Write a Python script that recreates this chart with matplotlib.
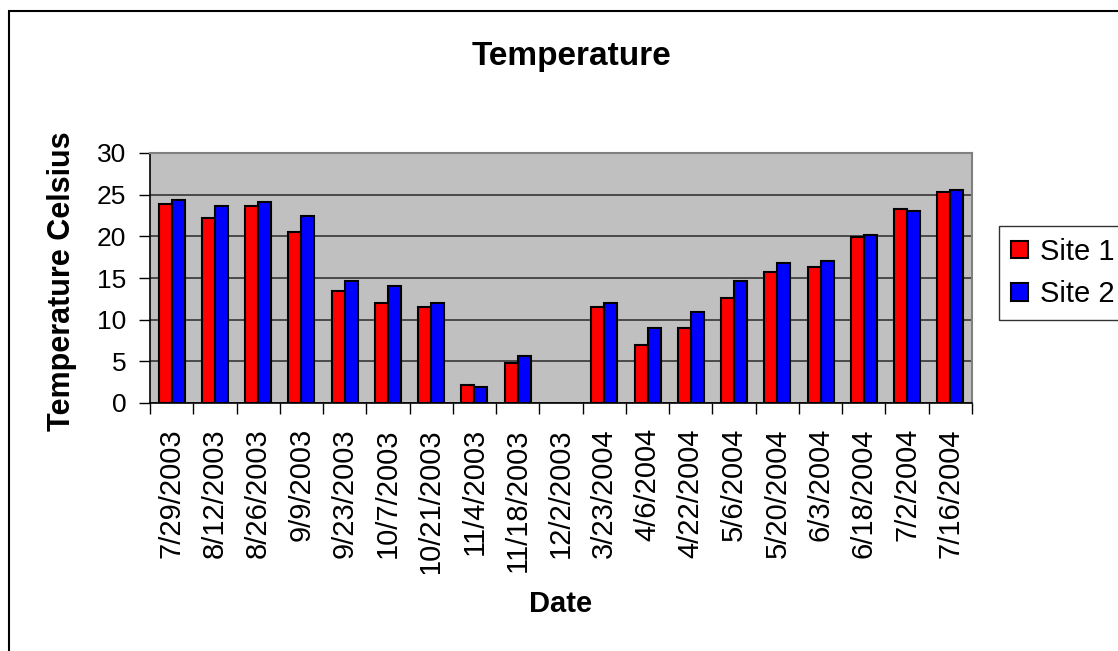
import numpy as np
import matplotlib
matplotlib.use("Agg")
import matplotlib.pyplot as plt
from matplotlib.patches import Rectangle
from matplotlib.transforms import Bbox

plt.rcParams['font.family'] = ['Liberation Sans', 'DejaVu Sans']

# --- data ---
dates = ["7/29/2003", "8/12/2003", "8/26/2003", "9/9/2003", "9/23/2003",
         "10/7/2003", "10/21/2003", "11/4/2003", "11/18/2003", "12/2/2003",
         "3/23/2004", "4/6/2004", "4/22/2004", "5/6/2004", "5/20/2004",
         "6/3/2004", "6/18/2004", "7/2/2004", "7/16/2004"]
site1 = [23.9, 22.2, 23.6, 20.5, 13.4, 12.0, 11.5, 2.2, 4.8, np.nan,
         11.5, 7.0, 9.0, 12.6, 15.7, 16.3, 19.9, 23.3, 25.3]
site2 = [24.4, 23.6, 24.1, 22.4, 14.6, 14.0, 12.0, 1.9, 5.6, np.nan,
         12.0, 9.0, 10.9, 14.6, 16.8, 17.1, 20.2, 23.0, 25.5]
y_ticks = [0, 5, 10, 15, 20, 25, 30]

W, H = 1118, 651
fig = plt.figure(figsize=(W / 100, H / 100), dpi=100)
fig.patch.set_facecolor('white')

# outer chart frame (only left/top visible in the reference)
fig.patches.append(Rectangle((9 / W, -0.1), 1.2, 1 - 11 / H + 0.1,
                             transform=fig.transFigure, fill=False,
                             edgecolor='black', linewidth=1.5))

# plot area in pixels: x 150..972, y 153..403
ax = fig.add_axes([150 / W, 1 - 403 / H, 822 / W, 250 / H])
ax.set_facecolor('#C0C0C0')

x = np.arange(len(dates))
w = 0.3
ax.bar(x - w / 2, site1, w, color='#FF0000', edgecolor='black', linewidth=1.5,
       label='Site 1', zorder=3)
ax.bar(x + w / 2, site2, w, color='#0000FF', edgecolor='black', linewidth=1.5,
       label='Site 2', zorder=3)

ax.set_xlim(-0.5, len(dates) - 0.5)
ax.set_ylim(0, 30)
ax.set_yticks(y_ticks)
ax.yaxis.grid(True, color='#404040', linewidth=1.3, zorder=1)
ax.set_axisbelow(True)

# category labels at centres, tick marks at boundaries
ax.set_xticks(x)
ax.set_xticklabels(dates, rotation=90, fontsize=21, va='top')
ax.set_xticks(np.arange(len(dates) + 1) - 0.5, minor=True)
ax.tick_params(axis='x', which='major', length=0, pad=18)
ax.tick_params(axis='x', which='minor', length=8, width=1, color='black',
               direction='out')
ax.tick_params(axis='y', length=8, width=1, pad=9, labelsize=19,
               direction='out')

for side in ['top', 'right']:
    ax.spines[side].set_color('#808080')
    ax.spines[side].set_linewidth(1.5)
for side in ['left', 'bottom']:
    ax.spines[side].set_color('black')
    ax.spines[side].set_linewidth(1.2)

# clip long date labels like the original
clip = Bbox.from_extents(0, H - 574, W, H)
for t in ax.get_xticklabels():
    t.set_clip_box(clip)
    t.set_clip_on(True)

fig.text(571 / W, 1 - 57 / H, 'Temperature', ha='center', va='center',
         fontsize=24, fontweight='bold')
fig.text(62 / W, 1 - 281 / H, 'Temperature Celsius', ha='center',
         va='center', rotation=90, fontsize=22, fontweight='bold')
fig.text(561 / W, 1 - 604 / H, 'Date', ha='center', va='center',
         fontsize=21, fontweight='bold')

leg = fig.legend(loc='upper left', bbox_to_anchor=(999 / W, 1 - 226 / H),
                 borderaxespad=0, fontsize=21, frameon=True, fancybox=False,
                 handlelength=0.6, handleheight=0.55, handletextpad=0.4,
                 borderpad=0.4, labelspacing=0.5)
leg.get_frame().set_edgecolor('black')
leg.get_frame().set_linewidth(1)

fig.savefig('out.png', dpi=100)
